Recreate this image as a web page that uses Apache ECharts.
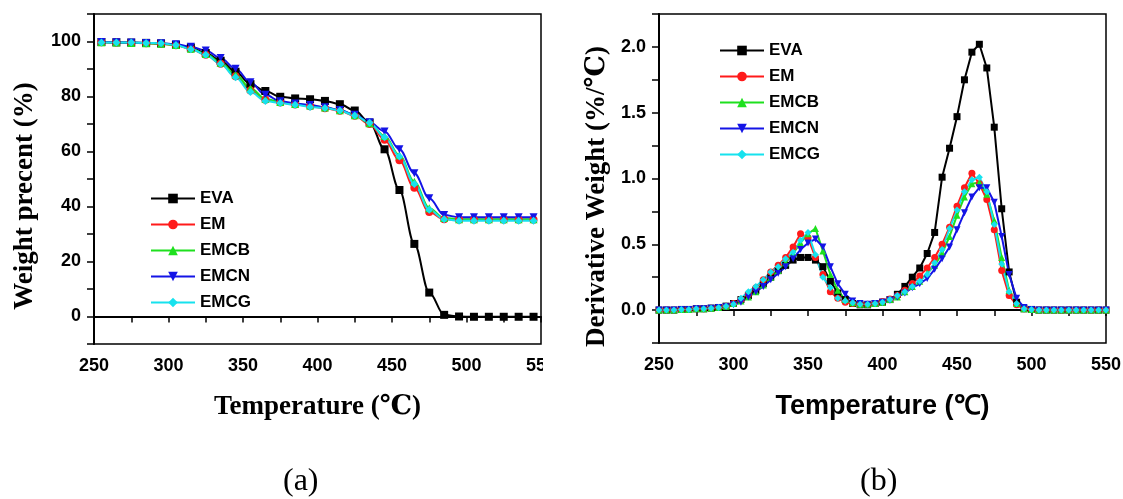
<!DOCTYPE html>
<html>
<head>
<meta charset="utf-8">
<title>TGA / DTG</title>
<script src="https://cdn.jsdelivr.net/npm/echarts@6/dist/echarts.min.js"></script>
<style>
  body { margin: 0; background: #fff; }
  #chartA { position: absolute; left: 0; top: 0; width: 543px; height: 499px; overflow: hidden; }
  #chartB { position: absolute; left: 543px; top: 0; width: 580px; height: 499px; }
</style>
</head>
<body>
<div id="chartA"></div>
<div id="chartB"></div>
<script>
// ---- data: (a) TGA weight percent, points every 10 C ----
var tgaTemp = [255, 265, 275, 285, 295, 305, 315, 325, 335, 345, 355, 365, 375, 385, 395,
  405, 415, 425, 435, 445, 455, 465, 475, 485, 495, 505, 515, 525, 535, 545];
var tgaEVA = [99.8, 99.7, 99.6, 99.5, 99.3, 98.8, 97.8, 95.8, 93.0, 89.0, 84.5, 82.0, 79.9, 79.3, 79.0,
  78.4, 77.2, 74.9, 70.5, 60.8, 46.0, 26.4, 8.7, 0.6, 0.0, -0.1, -0.1, -0.1, -0.1, -0.1];
var tgaEM = [99.7, 99.6, 99.5, 99.4, 99.2, 98.6, 97.3, 95.2, 91.9, 87.4, 82.2, 78.8, 77.8, 77.1, 76.5,
  75.7, 74.8, 73.0, 70.0, 64.3, 56.8, 46.8, 38.0, 35.4, 35.2, 35.2, 35.2, 35.2, 35.2, 35.2];
var tgaEMCB = [99.7, 99.6, 99.5, 99.4, 99.2, 98.7, 97.4, 95.5, 92.3, 88.0, 83.0, 79.2, 78.0, 77.3, 76.7,
  76.0, 75.0, 73.2, 70.3, 65.6, 58.6, 49.0, 39.4, 35.8, 35.4, 35.4, 35.4, 35.4, 35.4, 35.4];
var tgaEMCN = [99.8, 99.7, 99.6, 99.5, 99.4, 99.0, 98.1, 96.7, 94.0, 90.1, 85.2, 80.6, 78.3, 77.5, 76.9,
  76.1, 75.1, 73.4, 70.6, 67.3, 60.8, 52.1, 43.0, 36.9, 36.1, 36.1, 36.1, 36.1, 36.1, 36.1];
var tgaEMCG = [99.65, 99.6, 99.6, 99.5, 99.4, 98.7, 97.2, 95.2, 91.8, 87.0, 81.6, 78.4, 77.6, 77.0, 76.2,
  75.8, 74.9, 73.1, 70.5, 65.2, 58.2, 48.2, 38.8, 35.4, 34.8, 34.8, 34.8, 34.8, 34.8, 34.8];

// ---- data: (b) DTG derivative weight, points every 5 C ----
var dtgTemp = [250, 255, 260, 265, 270, 275, 280, 285, 290, 295, 300, 305, 310, 315, 320, 325, 330,
  335, 340, 345, 350, 355, 360, 365, 370, 375, 380, 385, 390, 395, 400, 405, 410, 415, 420, 425,
  430, 435, 440, 445, 450, 455, 460, 465, 470, 475, 480, 485, 490, 495, 500, 505, 510, 515, 520,
  525, 530, 535, 540, 545, 550];
var dtgEVA = [0, 0, 0, 0.005, 0.005, 0.01, 0.01, 0.015, 0.02, 0.03, 0.05, 0.08, 0.11, 0.15, 0.2, 0.25, 0.3,
  0.34, 0.38, 0.40, 0.40, 0.38, 0.33, 0.22, 0.13, 0.08, 0.05, 0.04, 0.04, 0.05, 0.06, 0.08, 0.12, 0.18, 0.25, 0.32,
  0.43, 0.59, 1.01, 1.23, 1.47, 1.75, 1.96, 2.02, 1.84, 1.39, 0.77, 0.29, 0.06, 0.01, 0.005, 0, 0, 0, 0,
  0, 0, 0, 0, 0, 0];
var dtgEM = [0, 0, 0, 0.005, 0.005, 0.01, 0.01, 0.015, 0.02, 0.03, 0.05, 0.08, 0.12, 0.17, 0.23, 0.29, 0.34,
  0.40, 0.48, 0.58, 0.55, 0.40, 0.27, 0.14, 0.09, 0.06, 0.05, 0.045, 0.045, 0.05, 0.065, 0.085, 0.11, 0.15, 0.2, 0.26,
  0.32, 0.40, 0.50, 0.63, 0.79, 0.93, 1.04, 0.96, 0.84, 0.61, 0.30, 0.11, 0.04, 0.01, 0.005, 0, 0, 0, 0,
  0, 0, 0, 0, 0, 0];
var dtgEMCB = [0, 0, 0, 0.005, 0.005, 0.01, 0.01, 0.015, 0.02, 0.03, 0.05, 0.07, 0.1, 0.14, 0.19, 0.25, 0.3,
  0.36, 0.43, 0.51, 0.58, 0.62, 0.45, 0.27, 0.15, 0.08, 0.055, 0.045, 0.045, 0.05, 0.06, 0.08, 0.1, 0.14, 0.18, 0.22,
  0.28, 0.34, 0.43, 0.56, 0.72, 0.86, 0.96, 0.97, 0.88, 0.68, 0.40, 0.15, 0.05, 0.01, 0.005, 0, 0, 0, 0,
  0, 0, 0, 0, 0, 0];
var dtgEMCN = [0, 0, 0, 0.005, 0.005, 0.01, 0.01, 0.015, 0.02, 0.025, 0.04, 0.06, 0.1, 0.14, 0.18, 0.23, 0.28,
  0.33, 0.39, 0.46, 0.51, 0.54, 0.48, 0.33, 0.2, 0.12, 0.07, 0.05, 0.045, 0.05, 0.06, 0.075, 0.1, 0.13, 0.17, 0.2,
  0.24, 0.31, 0.39, 0.48, 0.61, 0.74, 0.86, 0.93, 0.93, 0.82, 0.56, 0.27, 0.09, 0.02, 0.005, 0, 0, 0, 0,
  0, 0, 0, 0, 0, 0];
var dtgEMCG = [0, 0, 0, 0.005, 0.005, 0.01, 0.01, 0.015, 0.02, 0.03, 0.045, 0.09, 0.14, 0.18, 0.23, 0.29, 0.33,
  0.39, 0.44, 0.53, 0.59, 0.42, 0.25, 0.17, 0.09, 0.07, 0.055, 0.045, 0.045, 0.05, 0.06, 0.08, 0.11, 0.14, 0.18, 0.22,
  0.27, 0.36, 0.46, 0.62, 0.76, 0.90, 0.99, 1.01, 0.90, 0.65, 0.35, 0.14, 0.05, 0.01, 0.005, 0, 0, 0, 0,
  0, 0, 0, 0, 0, 0];

var names = ['EVA', 'EM', 'EMCB', 'EMCN', 'EMCG'];
var colors = ['#000000', '#ff1a1a', '#1ee01e', '#1414e6', '#16e2ee'];
var symbols = ['rect', 'circle', 'triangle', 'triangle', 'diamond'];
var rotates = [0, 0, 0, 180, 0];

var SANS = '"Liberation Sans", Arial, sans-serif';
var SERIF = '"Liberation Serif", "Times New Roman", "DejaVu Serif", serif';

function pairs(xs, ys) {
  return xs.map(function (x, i) { return [x, ys[i]]; });
}

function makeSeries(xs, list, size, smooth) {
  return list.map(function (ys, i) {
    return {
      name: names[i],
      type: 'line',
      data: pairs(xs, ys),
      smooth: smooth,
      smoothMonotone: 'x',
      symbol: symbols[i],
      symbolRotate: rotates[i],
      symbolSize: size,
      showAllSymbol: true,
      color: colors[i],
      lineStyle: { width: 2, color: colors[i] },
      itemStyle: { color: colors[i] },
      animation: false
    };
  });
}

function xAxisCfg(nameFont) {
  return {
    type: 'value', min: 250, max: 550, interval: 25,
    name: 'Temperature (\u2103)', nameLocation: 'middle', nameGap: 50,
    nameTextStyle: { fontFamily: nameFont, fontWeight: 'bold', fontSize: 27, color: '#000' },
    axisLine: { lineStyle: { color: '#000', width: 2 } },
    axisTick: { inside: false, length: 6, lineStyle: { color: '#000', width: 1.5 } },
    axisLabel: {
      margin: 13, color: '#000', fontFamily: SANS, fontWeight: 'bold', fontSize: 18,
      formatter: function (v) { return v % 50 === 0 ? String(v) : ''; }
    },
    splitLine: { show: false }
  };
}

var chartA = echarts.init(document.getElementById('chartA'));
chartA.setOption({
  backgroundColor: '#fff',
  grid: {
    left: 94, top: 14, width: 447, height: 330, outerBoundsMode: 'none',
    show: true, borderColor: '#000', borderWidth: 1.5
  },
  legend: {
    orient: 'vertical', left: 145, top: 185, itemWidth: 44, itemHeight: 12, itemGap: 9,
    data: names,
    textStyle: { fontFamily: SANS, fontWeight: 'bold', fontSize: 17, color: '#000', lineHeight: 17 }
  },
  xAxis: xAxisCfg(SERIF),
  yAxis: {
    type: 'value', min: -10, max: 110, interval: 10,
    name: 'Weight precent (%)', nameLocation: 'middle', nameGap: 55,
    nameTextStyle: { fontFamily: SERIF, fontWeight: 'bold', fontSize: 27, color: '#000', padding: [0, 34, 0, 0] },
    axisLine: { show: true, lineStyle: { color: '#000', width: 2 } },
    axisTick: { show: true, length: 7, lineStyle: { color: '#000', width: 1.5 } },
    axisLabel: {
      margin: 13, color: '#000', fontFamily: SANS, fontWeight: 'bold', fontSize: 18,
      formatter: function (v) { return (v >= 0 && v <= 100 && v % 20 === 0) ? String(v) : ''; }
    },
    splitLine: { show: false }
  },
  graphic: [{
    type: 'text', left: 283, top: 466,
    style: { text: '(a)', font: '32px ' + SERIF, fill: '#000' }
  }],
  series: makeSeries(tgaTemp, [tgaEVA, tgaEM, tgaEMCB, tgaEMCN, tgaEMCG], 8, 0.35)
});

var chartB = echarts.init(document.getElementById('chartB'));
chartB.setOption({
  backgroundColor: '#fff',
  grid: {
    left: 116, top: 14, width: 447, height: 329, outerBoundsMode: 'none',
    show: true, borderColor: '#000', borderWidth: 1.5
  },
  legend: {
    orient: 'vertical', left: 171, top: 37, itemWidth: 44, itemHeight: 12, itemGap: 9,
    data: names,
    textStyle: { fontFamily: SANS, fontWeight: 'bold', fontSize: 17, color: '#000', lineHeight: 17 }
  },
  xAxis: xAxisCfg(SANS),
  yAxis: {
    type: 'value', min: -0.25, max: 2.25, interval: 0.25,
    name: 'Derivative Weight (%/\u2103)', nameLocation: 'middle', nameGap: 48,
    nameTextStyle: { fontFamily: SERIF, fontWeight: 'bold', fontSize: 27, color: '#000', padding: [0, 36, 0, 0] },
    axisLine: { show: true, lineStyle: { color: '#000', width: 2 } },
    axisTick: { show: true, length: 7, lineStyle: { color: '#000', width: 1.5 } },
    axisLabel: {
      margin: 13, color: '#000', fontFamily: SANS, fontWeight: 'bold', fontSize: 18,
      formatter: function (v) {
        var k = Math.round(v * 4);
        return (k >= 0 && k <= 8 && k % 2 === 0) ? v.toFixed(1) : '';
      }
    },
    splitLine: { show: false }
  },
  graphic: [{
    type: 'text', left: 317, top: 466,
    style: { text: '(b)', font: '32px ' + SERIF, fill: '#000' }
  }],
  series: makeSeries(dtgTemp, [dtgEVA, dtgEM, dtgEMCB, dtgEMCN, dtgEMCG], 7, false)
});
</script>
</body>
</html>
